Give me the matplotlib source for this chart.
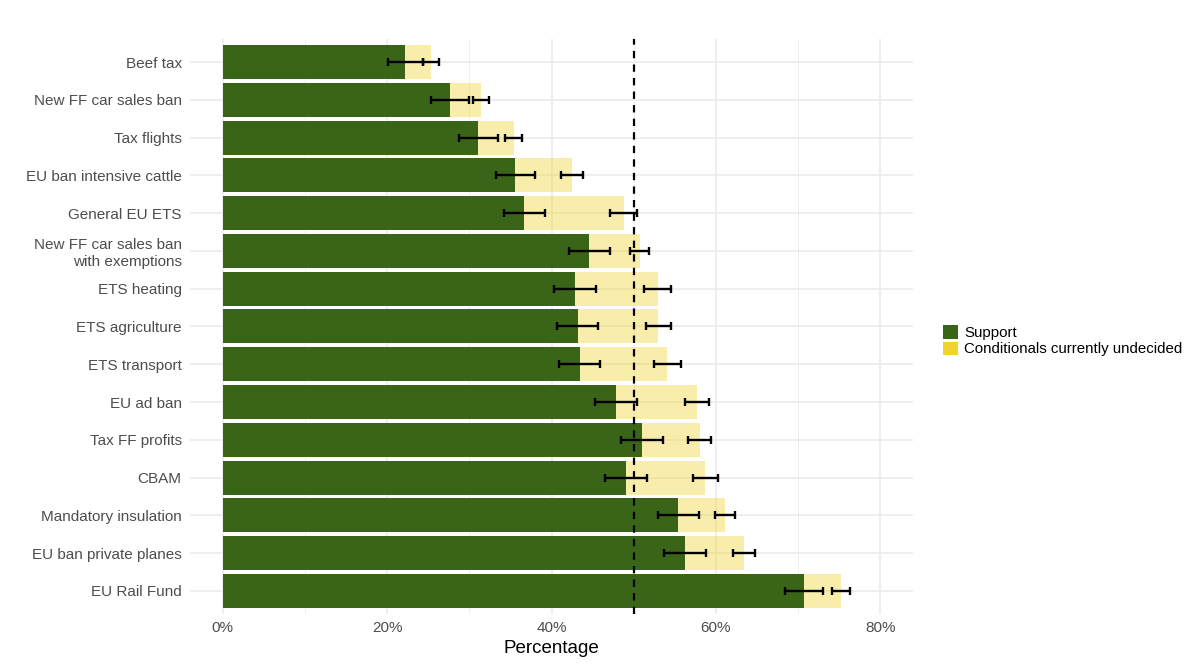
import numpy as np
import matplotlib.pyplot as plt
from matplotlib.patches import Patch

plt.rcParams['font.family'] = ['Liberation Sans', 'DejaVu Sans']

policies = ['Beef tax', 'New FF car sales ban', 'Tax flights', 'EU ban intensive cattle',
            'General EU ETS', 'New FF car sales ban\nwith exemptions', 'ETS heating',
            'ETS agriculture', 'ETS transport', 'EU ad ban', 'Tax FF profits', 'CBAM',
            'Mandatory insulation', 'EU ban private planes', 'EU Rail Fund']

support = [22.2, 27.6, 31.1, 35.6, 36.7, 44.6, 42.8, 43.2, 43.4, 47.8, 51.0, 49.1, 55.4, 56.2, 70.7]
support_err = [2.15, 2.3, 2.4, 2.4, 2.45, 2.5, 2.55, 2.5, 2.55, 2.55, 2.5, 2.55, 2.5, 2.55, 2.35]

# support + conditionals currently undecided
total = [25.3, 31.4, 35.4, 42.5, 48.8, 50.7, 52.9, 53.0, 54.1, 57.7, 58.0, 58.7, 61.1, 63.4, 75.2]
total_err = [1.0, 1.0, 1.05, 1.3, 1.65, 1.2, 1.6, 1.55, 1.6, 1.5, 1.35, 1.5, 1.2, 1.3, 1.1]

green = '#3a6418'
yellow = '#f1d32f'

fig = plt.figure(figsize=(12, 6.67), dpi=100)
ax = fig.add_axes([0.1583, 0.080, 0.6027, 0.861])

y = np.arange(len(policies))

ax.barh(y, total, height=0.9, color=yellow, alpha=0.4, zorder=2)
ax.barh(y, support, height=0.9, color=green, zorder=3)

ax.errorbar(support, y, xerr=support_err, fmt='none', ecolor='black',
            elinewidth=1.7, capsize=2.8, capthick=1.7, zorder=4)
ax.errorbar(total, y, xerr=total_err, fmt='none', ecolor='black',
            elinewidth=1.7, capsize=2.8, capthick=1.7, zorder=4)

ax.axvline(50, color='black', linestyle=(0, (3.3, 2.8)), linewidth=1.6, zorder=5)

ax.set_xlim(-4, 84)
ax.set_ylim(14.6, -0.6)
ax.set_yticks(y)
ax.set_yticklabels(policies)
ax.set_xticks([0, 20, 40, 60, 80])
ax.set_xticklabels(['0%', '20%', '40%', '60%', '80%'])
ax.set_xticks([10, 30, 50, 70], minor=True)

ax.grid(True, which='major', color='#ebebeb', linewidth=1.2, zorder=0)
ax.grid(True, which='minor', axis='x', color='#ebebeb', linewidth=0.6, zorder=0)
ax.set_axisbelow(True)
for s in ax.spines.values():
    s.set_visible(False)
ax.tick_params(axis='both', which='both', length=0, labelsize=11, labelcolor='#4d4d4d')
ax.tick_params(axis='y', pad=6)
ax.tick_params(axis='x', pad=5)

ax.set_xlabel('Percentage', fontsize=13.5, labelpad=4)

handles = [Patch(facecolor=green, label='Support'),
           Patch(facecolor=yellow, label='Conditionals currently undecided')]
fig.legend(handles=handles, loc='center left', bbox_to_anchor=(0.7805, 0.489),
           frameon=False, fontsize=10.8, handlelength=1.0, handleheight=1.0,
           handletextpad=0.45, labelspacing=0.1, borderaxespad=0)

plt.savefig('out.png', dpi=100)
